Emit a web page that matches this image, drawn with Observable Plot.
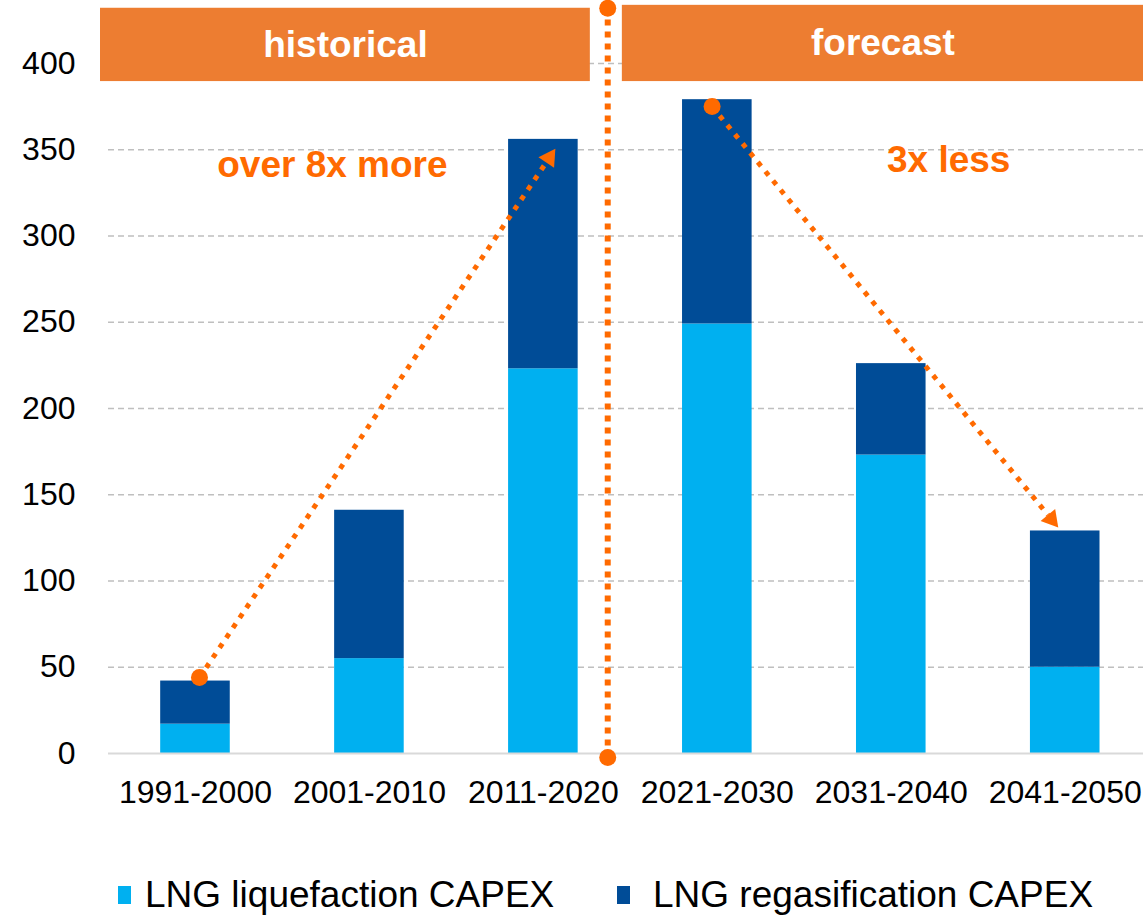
<!DOCTYPE html>
<html><head><meta charset="utf-8">
<script src="https://cdn.jsdelivr.net/npm/d3@7"></script>
<script src="https://cdn.jsdelivr.net/npm/@observablehq/plot@0.6"></script>
<style>
body{margin:0;background:#fff;font-family:"Liberation Sans",Arial,sans-serif;}
#legend{position:relative;height:77px;}
.item{position:absolute;top:0;display:flex;align-items:center;font-size:37px;color:#000;line-height:40px;}
.sw{width:13px;height:18px;}
</style></head>
<body><div id="chart"></div><div id="legend"></div>
<script>
const categories = ["1991-2000","2001-2010","2011-2020","2021-2030","2031-2040","2041-2050"];
const liquefaction = [17, 55, 223, 249, 173, 50];
const regasification = [25, 86, 133, 130, 53, 79];
const seriesNames = ["LNG liquefaction CAPEX","LNG regasification CAPEX"];
const seriesColors = ["#00B0F0","#004C97"];
const yTicks = [0,50,100,150,200,250,300,350,400];
const periods = ["historical","forecast"];
const periodStart = [-0.546, 2.454];
const periodEnd = [2.27, 5.45];
const periodLow = [389.5, 389.5], periodHigh = [432, 433.7];
const dividerX = 2.37;
const arrowFrom = [[0.023, 44],[2.97, 375]];
const arrowTo = [[2.069, 350.5],[4.96, 131]];
const notes = ["over 8x more","3x less"];
const notePos = [[0.787, 341],[4.33, 344]];

const orange = "#FF6A00";
const W = 1143, H = 840;
const rows = [];
categories.forEach((c,i)=>{
  rows.push({i, s:seriesNames[0], y1:0, y2:liquefaction[i]});
  rows.push({i, s:seriesNames[1], y1:liquefaction[i], y2:liquefaction[i]+regasification[i]});
});
const base = {
  width: W, height: H, marginLeft: 108, marginRight: 0, marginTop: 0, marginBottom: 87,
  style: {fontFamily: '"Liberation Sans", Arial, sans-serif', fontSize: "32px", color: "#000", background: "#fff"},
  x: {domain: [-0.5, 5.45], ticks: [0,1,2,3,4,5], tickFormat: i => categories[i], tickSize: 0, tickPadding: 27, label: null},
  y: {domain: [0, 436.5], ticks: yTicks, tickSize: 0, tickPadding: 33, label: null},
  color: {domain: seriesNames, range: seriesColors}
};
const probe = Plot.plot({...base, marks: [Plot.ruleY([0])]});
const sx = probe.scale("x"), sy = probe.scale("y");
const heads = arrowFrom.map((f,k)=>{
  const t = arrowTo[k];
  const px0 = sx.apply(f[0]), py0 = sy.apply(f[1]);
  const px1 = sx.apply(t[0]), py1 = sy.apply(t[1]);
  const dx = px1-px0, dy = py1-py0, L = Math.hypot(dx,dy);
  const ux = dx/L, uy = dy/L;
  const back = 10.9;
  const cx = px1 - ux*back, cy = py1 - uy*back;
  const ex = px1 - ux*16, ey = py1 - uy*16;
  return {x: sx.invert(cx), y: sy.invert(cy), rot: Math.atan2(dx, -dy)*180/Math.PI,
          x1: f[0], y1: f[1], x2: sx.invert(ex), y2: sy.invert(ey)};
});
const pdata = periods.map((p,k)=>({p, x1: periodStart[k], x2: periodEnd[k], xm:(periodStart[k]+periodEnd[k])/2, y1: periodLow[k], y2: periodHigh[k]}));
const plot = Plot.plot({...base, marks: [
  Plot.ruleY(yTicks.filter(d=>d>0), {stroke:"#BFBFBF", strokeWidth:1.5, strokeDasharray:"6,4"}),
  Plot.rect(rows, {x1: d=>d.i-0.2, x2: d=>d.i+0.2, y1:"y1", y2:"y2", fill:"s"}),
  Plot.ruleY([0], {stroke:"#D9D9D9", strokeWidth:2}),
  Plot.rect(pdata, {x1:"x1", x2:"x2", y1:"y1", y2:"y2", fill:"#ED7D31"}),
  Plot.text(pdata, {x:"xm", y:d=>(d.y1+d.y2)/2, text:"p", fill:"#fff", fontWeight:"bold", fontSize:37}),
  Plot.link([0], {x1: dividerX, x2: dividerX, y1: -2.3, y2: 432, stroke: orange, strokeWidth:6, strokeDasharray:"6,6"}),
  Plot.dot([-2.3, 432], {x: dividerX, y: d=>d, r: 8.5, fill: orange}),
  Plot.link(heads, {x1:"x1", y1:"y1", x2:"x2", y2:"y2", stroke: orange, strokeWidth:5, strokeDasharray:"5,7"}),
  Plot.dot(heads, {x:"x", y:"y", symbol:"triangle", r:7, rotate:"rot", fill: orange, stroke:"none"}),
  Plot.dot(arrowFrom, {x: d=>d[0], y: d=>d[1], r: 8.5, fill: orange}),
  Plot.text(notes, {x:(d,k)=>notePos[k][0], y:(d,k)=>notePos[k][1], text:d=>d, fill: orange, fontWeight:"bold", fontSize:37})
]});
document.getElementById("chart").appendChild(plot);
const leg = document.getElementById("legend");
const legX = [118, 617];
const legGap = [14, 23];
seriesNames.forEach((n,k)=>{
  const it = document.createElement("div");
  it.className = "item"; it.style.left = legX[k]+"px"; it.style.top = "35px";
  it.innerHTML = `<span class="sw" style="background:${seriesColors[k]};margin-right:${legGap[k]}px"></span><span>${n}</span>`;
  leg.appendChild(it);
});
</script></body></html>
